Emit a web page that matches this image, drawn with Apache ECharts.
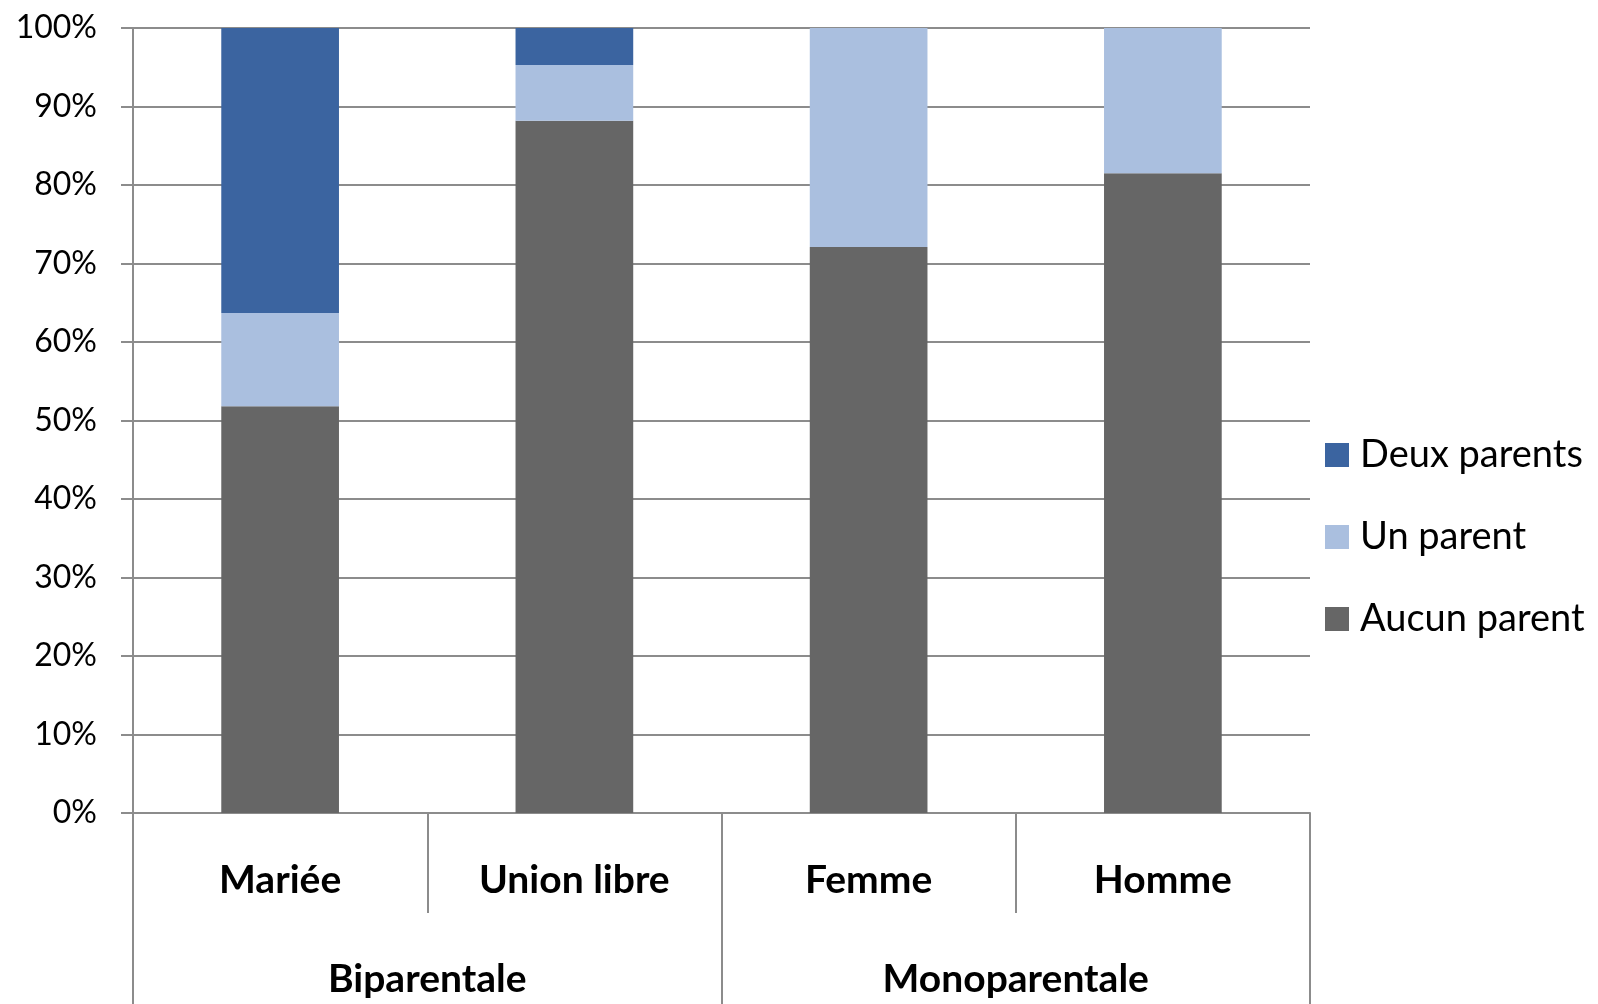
<!DOCTYPE html>
<html>
<head>
<meta charset="utf-8">
<script src="https://cdn.jsdelivr.net/npm/echarts@6/dist/echarts.min.js"></script>
<style>
html,body{margin:0;padding:0;background:#fff;}
#chart{width:1598px;height:1004px;}
</style>
</head>
<body>
<div id="chart"></div>
<script>
const categories = ['Mariée', 'Union libre', 'Femme', 'Homme'];
const groups = ['Biparentale', 'Monoparentale'];
const seriesNames = ['Aucun parent', 'Un parent', 'Deux parents'];
const aucunParent = [51.8, 88.2, 72.1, 81.5];
const unParent = [11.9, 7.1, 27.9, 18.5];
const deuxParents = [36.3, 4.7, 0, 0];
const yTicks = [0, 10, 20, 30, 40, 50, 60, 70, 80, 90, 100];

const colors = {'Aucun parent': '#666666', 'Un parent': '#AABFDF', 'Deux parents': '#3B64A0'};
const values = [aucunParent, unParent, deuxParents];
const lineColor = '#8c8c8c';
const font = 'Lato';

const chart = echarts.init(document.getElementById('chart'), null, {renderer: 'canvas'});
chart.setOption({
  animation: false,
  backgroundColor: '#ffffff',
  grid: {left: 133, right: 288, top: 28, bottom: 191, containLabel: false},
  legend: {
    orient: 'vertical',
    left: 1320,
    top: 431,
    itemWidth: 24,
    itemHeight: 24,
    itemGap: 44,
    icon: 'rect',
    data: ['Deux parents', 'Un parent', 'Aucun parent'],
    textStyle: {fontFamily: font, fontSize: 38, lineHeight: 30, color: '#000', padding: [0, 0, 0, 6]}
  },
  xAxis: [
    {
      type: 'category',
      data: categories,
      position: 'bottom',
      axisLine: {show: true, lineStyle: {color: lineColor, width: 2}},
      axisTick: {show: true, interval: 0, length: 100, lineStyle: {color: lineColor, width: 2}},
      axisLabel: {interval: 0, margin: 47, fontFamily: font, fontWeight: 'bold', fontSize: 39, lineHeight: 40, color: '#000'}
    },
    {
      type: 'category',
      data: groups,
      position: 'bottom',
      offset: 100,
      axisLine: {show: false},
      axisTick: {show: true, interval: 0, length: 95, lineStyle: {color: lineColor, width: 2}},
      axisLabel: {interval: 0, margin: 46, fontFamily: font, fontWeight: 'bold', fontSize: 39, lineHeight: 40, color: '#000'}
    }
  ],
  yAxis: {
    type: 'value',
    min: 0,
    max: 100,
    interval: 10,
    axisLine: {show: true, lineStyle: {color: lineColor, width: 2}},
    axisTick: {show: true, length: 12, lineStyle: {color: lineColor, width: 2}},
    splitLine: {show: true, lineStyle: {color: lineColor, width: 2}},
    axisLabel: {
      margin: 36,
      fontFamily: font,
      fontSize: 32,
      color: '#000',
      formatter: function (v) { return yTicks.indexOf(v) >= 0 ? v + '%' : ''; }
    }
  },
  series: seriesNames.map(function (name, i) {
    return {
      name: name,
      type: 'bar',
      stack: 'total',
      xAxisIndex: 0,
      barWidth: '40%',
      data: values[i],
      itemStyle: {color: colors[name]}
    };
  })
});
</script>
</body>
</html>
